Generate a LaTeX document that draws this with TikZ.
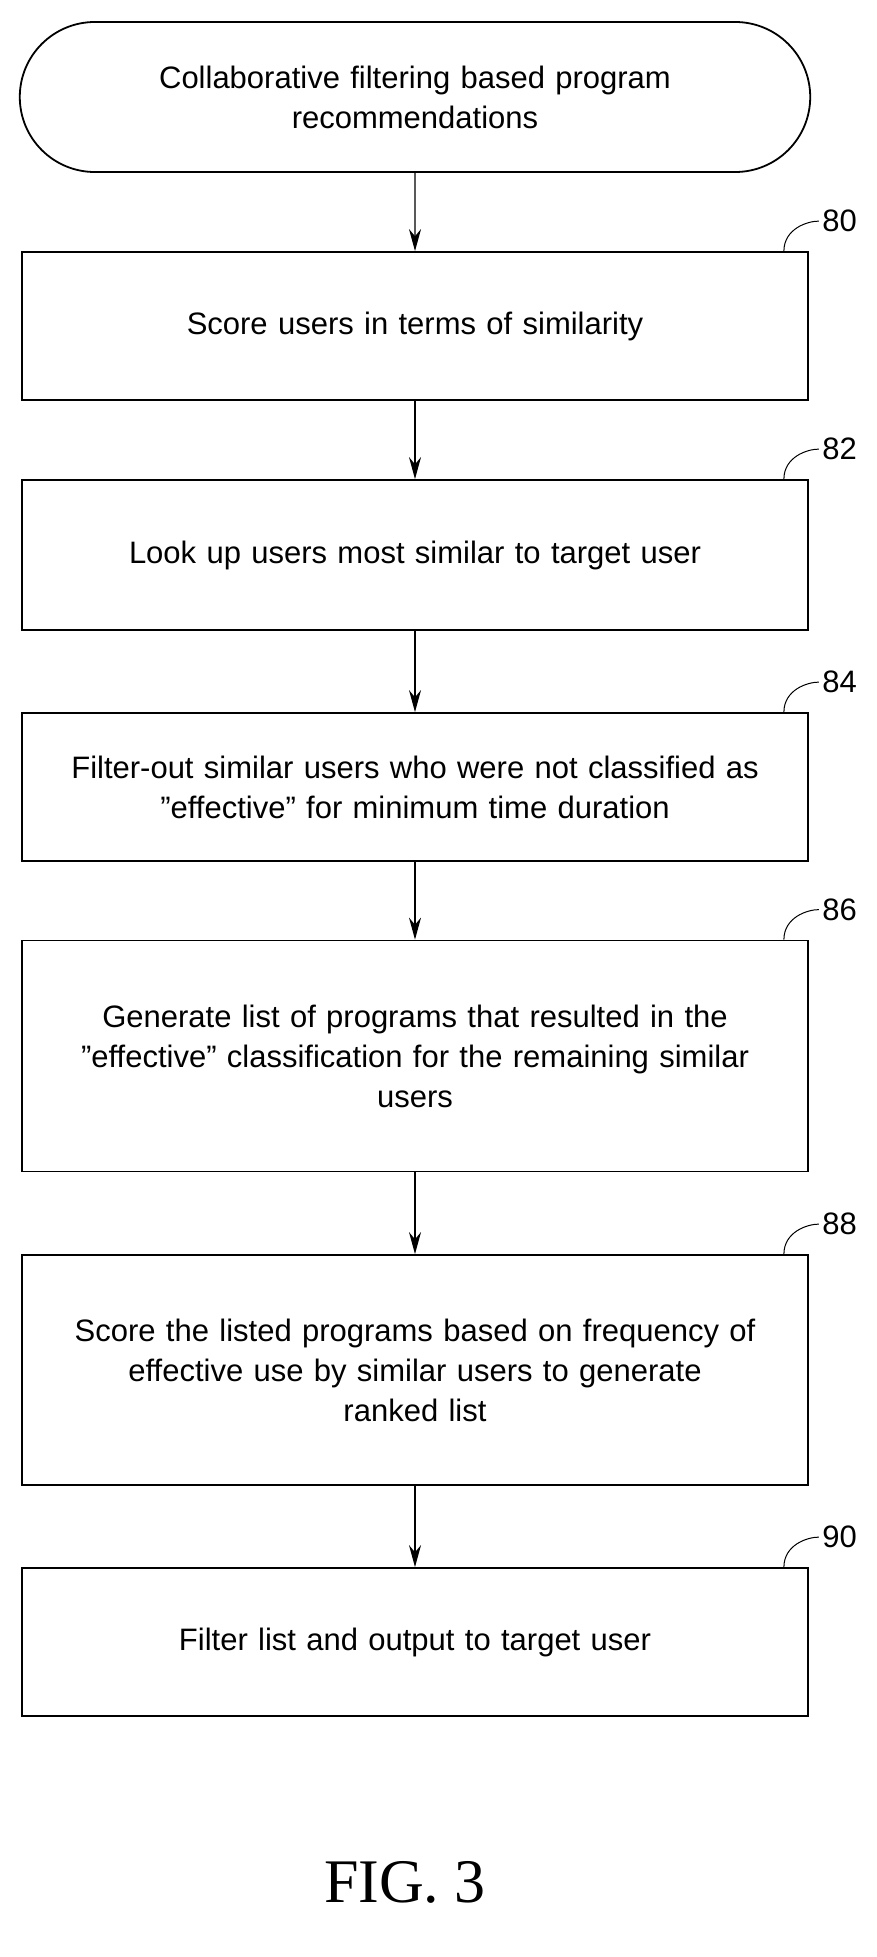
\documentclass[tikz,border=0pt]{standalone}
\usepackage{fontspec}
\setmainfont{Liberation Sans}
\newfontfamily\figfont{Liberation Serif}
\usetikzlibrary{shapes.misc,arrows.meta}
\tikzset{
  stage/.style={draw, line width=1.8pt, minimum width=786pt, align=center, font=\fontsize{31}{40}\selectfont, text width=770pt},
  flow/.style={-{Stealth[length=22pt,width=12pt]}, line width=1.3pt},
  tag/.style={font=\fontsize{31}{34}\selectfont, anchor=west}
}
\begin{document}
\begin{tikzpicture}[x=1pt,y=-1pt]
    \useasboundingbox (0,0) rectangle (877,1957);

    % Start terminal
    \node[stage, rounded rectangle, minimum height=150pt] (start) at (415,97) {Collaborative filtering based program\\recommendations};

    % Process steps
    \node[stage, minimum height=148pt] (s80) at (415,326) {Score users in terms of similarity};
    \node[stage, minimum height=150pt] (s82) at (415,555) {Look up users most similar to target user};
    \node[stage, minimum height=148pt] (s84) at (415,787) {Filter-out similar users who were not classified as\\"effective" for minimum time duration};
    \node[stage, minimum height=231pt] (s86) at (415,1056) {Generate list of programs that resulted in the\\"effective" classification for the remaining similar\\users};
    \node[stage, minimum height=230pt] (s88) at (415,1370) {Score the listed programs based on frequency of\\effective use by similar users to generate\\ranked list};
    \node[stage, minimum height=148pt] (s90) at (415,1642) {Filter list and output to target user};

    % Connectors
    \draw[flow] (start) -- (s80);
    \draw[flow] (s80) -- (s82);
    \draw[flow] (s82) -- (s84);
    \draw[flow] (s84) -- (s86);
    \draw[flow] (s86) -- (s88);
    \draw[flow] (s88) -- (s90);

    % Reference numerals
    \foreach \b/\n in {s80/80, s82/82, s84/84, s86/86, s88/88, s90/90} {
      \coordinate (c\n) at ([xshift=-25pt]\b.north east);
      \node[tag] (t\n) at ([xshift=10pt,yshift=30pt]\b.north east) {\n};
      \draw[line width=1pt] (c\n) .. controls ([yshift=22pt]c\n) and ([xshift=-12pt]t\n.west) .. (t\n.west);
    }

    % Figure caption
    \node[font=\fontsize{62}{64}\selectfont\figfont] (fig) at (405,1882) {FIG. 3};
\end{tikzpicture}
\end{document}
